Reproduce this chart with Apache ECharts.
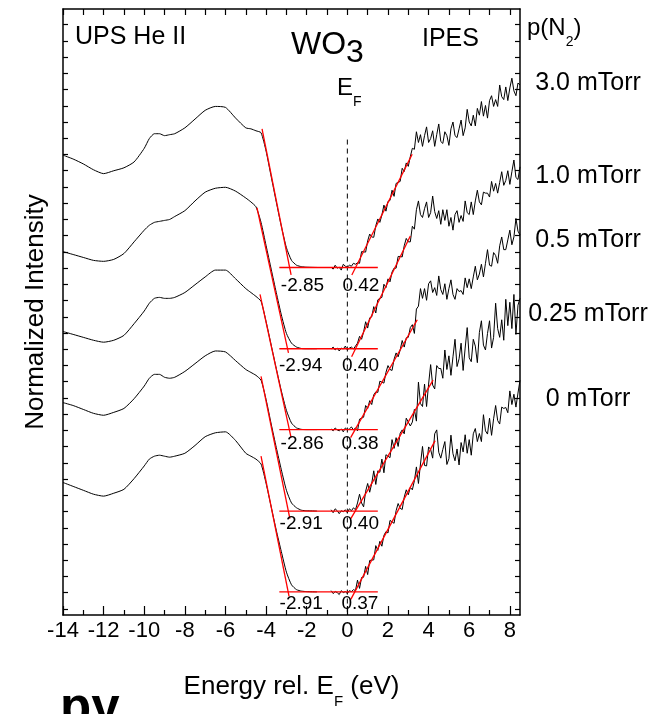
<!DOCTYPE html>
<html>
<head>
<meta charset="utf-8">
<script src="https://cdn.jsdelivr.net/npm/echarts@6/dist/echarts.min.js"></script>
<style>
  html, body { margin: 0; padding: 0; background: #fff; }
  #chart { width: 666px; height: 714px; }
</style>
</head>
<body>
<div id="chart"></div>
<script>
const FONT = '"Liberation Sans", Arial, Helvetica, sans-serif';

// pressure labels, top to bottom
const pressures = ['3.0 mTorr', '1.0 mTorr', '0.5 mTorr', '0.25 mTorr', '0 mTorr'];

// UPS He II spectra (energy rel. E_F in eV, intensity in arb. offset units)
const upsEnergy = [-14, -13.5, -13, -12.5, -12, -11.5, -11, -10.5, -10, -9.75, -9.5, -9.25, -9, -8.75, -8.5, -8, -7.5, -7, -6.5, -6, -5.5, -5, -4.75, -4.5, -4.25, -4, -3.75, -3.5, -3.25, -3, -2.75, -2.5, -2.25, -2, -1.5];
const ups30 = [483, 479, 474, 468, 464, 467, 470, 476, 490, 500, 505, 505, 503, 504, 505, 511, 520, 529, 533, 532, 521, 511, 510, 508, 506, 487, 461, 435, 410, 388, 375, 370, 368.5, 368, 367.7];
const ups10 = [384, 381, 378, 375, 374, 376, 382, 394, 406, 411, 414, 415, 416, 417, 420, 426, 436, 445, 449, 450, 446, 439, 435, 430, 414, 390, 366, 342, 319, 300, 290, 286, 284.5, 284.3, 284.3];
const ups05 = [302, 299, 296, 293, 291, 293, 298, 310, 323, 331, 336, 337, 336, 336, 337, 342, 350, 358, 365, 365, 356, 346, 342, 338, 333, 312, 288, 264, 241, 221, 208, 203, 201.5, 201.3, 201.3];
const ups025 = [229, 226, 222, 218, 216, 219, 223, 233, 246, 254, 258, 258, 255, 254, 255, 261, 269, 277, 282, 281, 272, 263, 260, 257, 252, 232, 207, 183, 160, 139, 126, 121, 118.5, 118, 117.7];
const ups0 = [147, 143, 139, 135, 133, 136, 140, 151, 164, 171, 174, 175, 174, 173, 174, 177, 185, 194, 198, 199, 190, 177, 174, 171, 166, 146, 122, 98, 76, 55, 42, 37, 35.5, 35, 34.7];

// IPES spectra
const ipesEnergy = [-0.8, -0.7, -0.6, -0.5, -0.4, -0.3, -0.2, -0.1, 0, 0.1, 0.2, 0.3, 0.4, 0.5, 0.6, 0.7, 0.8, 0.9, 1, 1.1, 1.2, 1.3, 1.4, 1.5, 1.6, 1.7, 1.8, 1.9, 2, 2.1, 2.2, 2.3, 2.4, 2.5, 2.6, 2.7, 2.8, 2.9, 3, 3.1, 3.2, 3.3, 3.4, 3.5, 3.6, 3.7, 3.8, 3.9, 4, 4.1, 4.2, 4.3, 4.4, 4.5, 4.6, 4.7, 4.8, 4.9, 5, 5.1, 5.2, 5.3, 5.4, 5.5, 5.6, 5.7, 5.8, 5.9, 6, 6.1, 6.2, 6.3, 6.4, 6.5, 6.6, 6.7, 6.8, 6.9, 7, 7.1, 7.2, 7.3, 7.4, 7.5, 7.6, 7.7, 7.8, 7.9, 8, 8.1, 8.2, 8.3, 8.4, 8.5];
const ipes30 = [368, 366, 370, 367, 368, 365, 371, 369, 368, 370, 369, 372, 371,
  372.5, 372, 384, 383.7, 383.5, 395, 402, 399, 398.7, 410.5, 417.5, 414, 421.5, 431.7, 425.5, 435.5, 436.5, 447, 440.7, 454, 455, 456, 469.5, 466.2, 475, 471.5, 481.5,
  490, 489, 507, 496, 504, 492, 503, 512, 496, 500, 508, 492, 504, 515, 497, 495, 507, 503, 493, 510, 517, 503, 501, 510, 519, 503, 511, 530, 517, 513, 524, 513, 531, 524, 538, 523, 534, 521, 539, 544, 533, 540, 533, 555, 543, 540, 553, 539, 552, 562, 549, 544, 557, 555];
const ipes10 = [284, 286, 283, 285, 282, 285, 284, 287, 283, 285, 286, 284, 287,
  290, 297, 294, 301.5, 312, 305.5, 316, 317, 327.5, 321, 334.5, 336, 337, 350.5, 347, 356, 353, 363, 367, 367, 379, 379, 378.5, 390, 397.5, 394, 394,
  410, 407, 427, 436, 422, 419, 428, 435, 419, 424, 441, 425, 418, 426, 412, 427, 416, 427, 410, 419, 406, 422, 426, 414, 421, 415, 436, 424, 422, 435, 422, 436, 447, 435, 432, 445, 444, 444, 440, 456, 446, 454, 444, 455, 466, 452, 457, 467, 453, 466, 478, 460, 458, 471];
const ipes05 = [202, 200, 203, 201, 200, 202, 199, 203, 201, 202, 204, 201, 203,
  200, 212, 213, 214, 226, 223, 231, 227, 237, 240, 239.5, 251, 250, 249, 260, 267, 263, 262, 273.5, 280, 276, 283, 292.7, 286, 295.5, 296, 306,
  309, 300, 325, 328, 346, 336, 346, 334, 351, 354, 342, 347, 339, 359, 345, 340, 351, 335, 346, 355, 340, 335, 346, 343, 344, 340, 357, 347, 356, 346, 358, 369, 355, 361, 371, 358, 372, 386, 370, 369, 383, 380, 372, 390, 399, 386, 386, 396, 406, 391, 399, 418, 405, 401];
const ipes025 = [119, 116, 120, 118, 115, 118, 117, 119, 116, 120, 118, 121, 119,
  126, 135, 126, 122, 138, 146, 137, 146, 159, 145, 159, 157.5, 171, 157, 175.5, 174, 172.5, 191, 182, 193, 184, 197.5, 201, 197, 213, 209, 205,
  209, 222, 210, 250, 228, 225, 248, 225, 248, 268, 247, 243, 267, 264, 264, 254, 283, 263, 277, 257, 276, 294, 266, 274, 290, 262, 285, 306, 275, 271, 294, 287, 270, 301, 313, 288, 283, 300, 313, 285, 296, 331, 305, 296, 314, 293, 335, 308, 332, 305, 340, 299, 329, 336];
const ipes0 = [36, 33, 35, 34, 32, 36, 34, 35, 33, 36, 35, 37, 36,
  46.8, 38.3, 49.5, 49.8, 60.9, 52.5, 67, 67.3, 67.6, 82.2, 77.3, 86.6, 81.6, 92.7, 96.6, 95.2, 108.1, 106.6, 105.1, 118.1, 125.4, 120.5, 119.3, 132, 139.5, 134.4, 142,
  139.5, 148.7, 163, 146, 166, 184, 164.5, 164, 183.5, 181, 172, 197, 201, 178, 172, 181, 189, 165.5, 171.4, 195.6, 176.5, 169.3, 181.4, 165, 188, 178.4, 196, 177, 191, 175, 197, 202.4, 189, 197.3, 189, 216.6, 200, 196.7, 213, 195.4, 212.4, 226, 210.6, 207, 224.4, 223, 224, 218.6, 241, 227, 237.6, 224.4, 238.8, 252];

// band edges from the linear fits (eV)
const vbmEdges = [-2.85, -2.94, -2.86, -2.91, -2.91];
const cbmEdges = [0.42, 0.40, 0.38, 0.40, 0.37];
const baselines = [367.7, 284.3, 201.3, 117.7, 34.7];
const baseFitRange = [-3.35, 1.5];

// fit line end points [energy, intensity]
const upsFits = [
  [[-4.20, 510], [-2.77, 360]],
  [[-4.45, 429], [-2.90, 280]],
  [[-4.30, 340], [-2.77, 193]],
  [[-4.25, 256], [-2.83, 110]],
  [[-4.25, 174], [-2.87, 30]]
];
const ipesFits = [
  [[0.22, 360], [3.19, 484]],
  [[0.21, 276], [3.10, 400]],
  [[0.16, 193], [3.44, 314]],
  [[0.17, 110], [4.22, 252]],
  [[0.17, 27], [4.32, 190]]
];

const fermiLine = [[0, 499], [0, 14]];

// axis ticks
const evenTicks = [-14, -12, -10, -8, -6, -4, -2, 0, 2, 4, 6, 8];
const oddTicks = [-13, -11, -9, -7, -5, -3, -1, 1, 3, 5, 7];
const yTicks = [];
for (let v = 17.2; v < 633; v += 16.66) yTicks.push(v);

const black = '#000';
const red = '#ff0000';
const upsSets = [ups30, ups10, ups05, ups025, ups0];
const ipesSets = [ipes30, ipes10, ipes05, ipes025, ipes0];

const series = [];
upsSets.forEach(v => {
  series.push({
    type: 'line', data: upsEnergy.map((e, i) => [e, v[i]]),
    symbol: 'none', smooth: 0.2, lineStyle: { color: black, width: 1 }, z: 2
  });
});
ipesSets.forEach(v => {
  series.push({
    type: 'line', data: ipesEnergy.map((e, i) => [e, v[i]]),
    symbol: 'none', lineStyle: { color: black, width: 1 }, z: 2
  });
});
upsFits.concat(ipesFits).forEach(f => {
  series.push({ type: 'line', data: f, symbol: 'none', lineStyle: { color: red, width: 1.3 }, z: 3 });
});
baselines.forEach(b => {
  series.push({
    type: 'line', data: [[baseFitRange[0], b], [baseFitRange[1], b]],
    symbol: 'none', lineStyle: { color: red, width: 1.3 }, z: 3
  });
});
series.push({
  type: 'line', data: fermiLine, symbol: 'none',
  lineStyle: { color: black, width: 1, type: [5, 4] }, z: 1
});

const axisLine = { show: true, onZero: false, lineStyle: { color: black, width: 1.5 } };
const noLine = { show: false, onZero: false };
const tickStyle = { color: black, width: 1.2 };
const xBase = { type: 'value', min: -14, max: 8.5, splitLine: { show: false } };
const yBase = {
  type: 'value', min: 11, max: 633,
  splitLine: { show: false }, axisLabel: { show: false }
};

const subRich = (big, small, drop) => ({
  a: { fontSize: big, fontFamily: FONT, color: black, lineHeight: big + 4, verticalAlign: 'top' },
  s: { fontSize: small, fontFamily: FONT, color: black, verticalAlign: 'top', padding: [drop, 0, 0, 0] }
});

const pressureY = [83, 176, 240, 314, 399];

const graphics = [
  { type: 'text', x: 75, y: 37, style: { text: 'UPS He II', font: '25px ' + FONT, fill: black, verticalAlign: 'middle' } },
  { type: 'text', x: 422, y: 39, style: { text: 'IPES', font: '25px ' + FONT, fill: black, verticalAlign: 'middle' } },
  {
    type: 'text', x: 291, y: 29, style: {
      text: '{a|WO}{b|3}', verticalAlign: 'top',
      rich: {
        a: { fontSize: 32, fontFamily: FONT, color: black, lineHeight: 36, verticalAlign: 'top' },
        b: { fontSize: 32, fontFamily: FONT, color: black, verticalAlign: 'top', padding: [8, 0, 0, 0] }
      }
    }
  },
  { type: 'text', x: 337, y: 76, style: { text: '{a|E}{s|F}', verticalAlign: 'top', rich: subRich(24, 14, 19) } },
  { type: 'text', x: 527, y: 16, style: { text: '{a|p(N}{s|2}{a|)}', verticalAlign: 'top', rich: subRich(24, 14, 19) } },
  ...pressures.map((t, i) => ({
    type: 'text', x: 588, y: pressureY[i],
    style: { text: t, font: '25px ' + FONT, fill: black, align: 'center', verticalAlign: 'middle' }
  })),
  { type: 'text', x: 60, y: 710, style: { text: 'py', font: 'bold 51px ' + FONT, fill: black, verticalAlign: 'middle' } }
];

const option = {
  animation: false,
  backgroundColor: '#fff',
  grid: { left: 63, right: 146, top: 9, bottom: 83 },
  xAxis: [
    {
      ...xBase, position: 'bottom', axisLine,
      axisTick: { show: true, inside: true, length: 9, customValues: evenTicks, lineStyle: tickStyle },
      axisLabel: { customValues: evenTicks, fontSize: 22, color: black, fontFamily: FONT, margin: 5 },
      name: '{a|Energy rel. E}{s|F}{a| (eV)}', nameLocation: 'middle', nameGap: 59,
      nameTextStyle: { rich: subRich(26, 15, 20) }
    },
    {
      ...xBase, position: 'bottom', axisLine: noLine,
      axisTick: { show: true, inside: true, length: 5, customValues: oddTicks, lineStyle: tickStyle },
      axisLabel: { show: false }
    },
    {
      ...xBase, position: 'top', axisLine,
      axisTick: { show: true, inside: true, length: 6, customValues: evenTicks, lineStyle: tickStyle },
      axisLabel: { show: false }
    },
    {
      ...xBase, position: 'top', axisLine: noLine,
      axisTick: { show: true, inside: true, length: 6, customValues: oddTicks, lineStyle: tickStyle },
      axisLabel: { show: false }
    }
  ],
  yAxis: [
    {
      ...yBase, position: 'left', axisLine,
      axisTick: { show: true, inside: true, length: 5, customValues: yTicks, lineStyle: tickStyle },
      name: 'Normalized Intensity', nameLocation: 'middle', nameGap: 14,
      nameTextStyle: { fontSize: 26, fontFamily: FONT, color: black }
    },
    {
      ...yBase, position: 'right', axisLine,
      axisTick: { show: true, inside: true, length: 5, customValues: yTicks, lineStyle: tickStyle }
    }
  ],
  graphic: graphics,
  series
};

const chart = echarts.init(document.getElementById('chart'));
chart.setOption(option);

// band-edge values written under each fit crossing, placed through the axes
const labelDrop = [18, 17, 14, 13, 12];
const edgeText = (value, base, dx, dy) => {
  const [px, py] = chart.convertToPixel({ xAxisIndex: 0, yAxisIndex: 0 }, [value, base]);
  return {
    type: 'text', x: px + dx, y: py + dy, z: 10,
    style: { text: value.toFixed(2), font: '19px ' + FONT, fill: black, align: 'center', verticalAlign: 'middle' }
  };
};
const edgeLabels = [];
baselines.forEach((b, i) => {
  edgeLabels.push(edgeText(vbmEdges[i], b, 13, labelDrop[i]));
  edgeLabels.push(edgeText(cbmEdges[i], b, 5, labelDrop[i]));
});
chart.setOption({ graphic: graphics.concat(edgeLabels) });
</script>
</body>
</html>
